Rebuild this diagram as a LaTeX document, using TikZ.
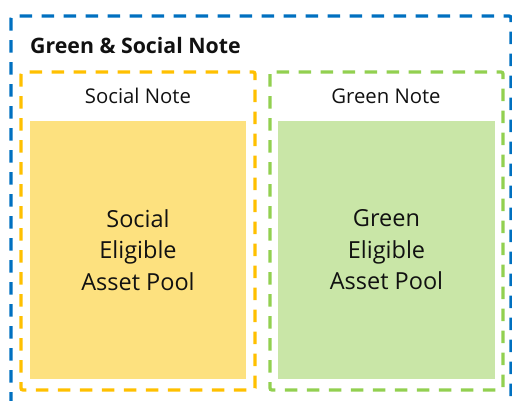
\documentclass[tikz,border=0pt]{standalone}
\usepackage{fontspec}
\setmainfont{Open Sans}
\definecolor{bluedash}{HTML}{0070C0}
\definecolor{yellowdash}{HTML}{FFC000}
\definecolor{greendash}{HTML}{92D050}
\definecolor{yellowfill}{HTML}{FDE17F}
\definecolor{greenfill}{HTML}{C9E6A7}
\definecolor{txt}{HTML}{111111}
\begin{document}
\begin{tikzpicture}[x=1pt,y=-1pt,
  frame/.style={line width=3.3pt, dash pattern=on 12.5pt off 9.5pt, rounded corners=2pt},
  pooltext/.style={align=center, text=txt, font=\fontsize{23.5}{31.5}\selectfont, inner sep=0pt},
  notetitle/.style={text=txt, font=\fontsize{20.3}{24}\selectfont, inner sep=0pt, anchor=base}
]
\useasboundingbox (0,0) rectangle (512,400);
\clip (0,0) rectangle (512,400);
% outer frame
\draw[frame, bluedash] (11,16) rectangle (511,420);
\node[text=txt, font=\bfseries\fontsize{21.3}{24}\selectfont, inner sep=0pt, anchor=base west] (title) at (30,53) {Green \& Social Note};
% social
\draw[frame, yellowdash] (21,72) rectangle (255,390);
\fill[yellowfill] (30,121) rectangle (246,379);
\node[notetitle] (socialnote) at (138,103) {Social Note};
\node[pooltext] (socialpool) at (138,250) {Social\\Eligible\\Asset Pool};
% green
\draw[frame, greendash] (270,72) rectangle (503,390);
\fill[greenfill] (278,121) rectangle (495,379);
\node[notetitle] (greennote) at (386,103) {Green Note};
\node[pooltext] (greenpool) at (386.5,250) {Green\\Eligible\\Asset Pool};
\end{tikzpicture}
\end{document}
